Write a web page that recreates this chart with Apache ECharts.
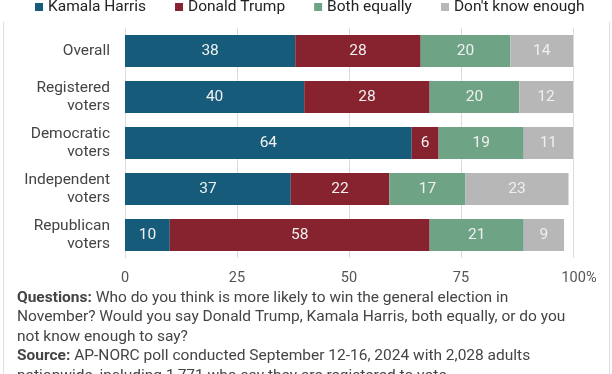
<!DOCTYPE html>
<html><head><meta charset="utf-8">
<style>html,body{margin:0;padding:0;background:#fff;}#c{width:612px;height:374px;}</style>
<script src="https://cdn.jsdelivr.net/npm/echarts@6/dist/echarts.min.js"></script>
</head><body><div id="c"></div>
<script>
const categories = ["Overall", "Registered\nvoters", "Democratic\nvoters", "Independent\nvoters", "Republican\nvoters"];
const harris = [38, 40, 64, 37, 10];
const trump = [28, 28, 6, 22, 58];
const both = [20, 20, 19, 17, 21];
const dontKnow = [14, 12, 11, 23, 9];
const seriesNames = ["Kamala Harris", "Donald Trump", "Both equally", "Don't know enough"];
const xTicks = [0, 25, 50, 75, 100];
const colors = ["#175b7b", "#87232f", "#6ea386", "#b7b7b7"];

const chart = echarts.init(document.getElementById('c'), null, {renderer: 'canvas'});
const mk = (name, data, color) => ({
  name, type: 'bar', stack: 'a', data, barWidth: 32,
  itemStyle: {color},
  label: {show: true, position: 'inside', color: '#f0f0f0', fontSize: 15.5, fontFamily: 'Roboto'}
});
chart.setOption({
  animation: false,
  textStyle: {fontFamily: 'Roboto'},
  legend: {
    top: -1, left: 35, padding: 0, itemWidth: 8, itemHeight: 8, itemGap: 29, icon: 'rect',
    textStyle: {fontSize: 15.5, color: '#222', fontFamily: 'Roboto', lineHeight: 16},
    data: seriesNames
  },
  grid: {left: 125, right: 39, top: 28, bottom: 116, containLabel: false},
  xAxis: {
    type: 'value', min: 0, max: 100, interval: 25,
    axisLine: {show: false}, axisTick: {show: false},
    splitLine: {lineStyle: {color: '#dcdcdc', width: 1}},
    axisLabel: {fontSize: 14.5, color: '#555', margin: 13,
      formatter: v => xTicks.includes(v) ? (v === 100 ? '{p|100%}' : String(v)) : '',
      rich: {p: {fontSize: 14.5, color: '#555', fontFamily: 'Roboto', padding: [0, 0, 0, 12]}}}
  },
  yAxis: {
    type: 'category', data: categories, inverse: true,
    axisLine: {show: true, lineStyle: {color: '#dcdcdc'}}, axisTick: {show: false},
    axisLabel: {fontSize: 15.5, color: '#444', lineHeight: 18, margin: 15, align: 'right'}
  },
  series: [
    mk(seriesNames[0], harris, colors[0]),
    mk(seriesNames[1], trump, colors[1]),
    mk(seriesNames[2], both, colors[2]),
    mk(seriesNames[3], dontKnow, colors[3])
  ],
  graphic: [
    {type: 'line', shape: {x1: 3.5, y1: 22, x2: 3.5, y2: 374}, style: {stroke: '#dedede', lineWidth: 1}},
    {type: 'line', shape: {x1: 609.5, y1: 22, x2: 609.5, y2: 374}, style: {stroke: '#dedede', lineWidth: 1}},
    {type: 'text', left: 17, top: 288, style: {
      text: '{b|Questions:} Who do you think is more likely to win the general election in\nNovember? Would you say Donald Trump, Kamala Harris, both equally, or do you\nnot know enough to say?\n{b|Source:} AP-NORC poll conducted September 12-16, 2024 with 2,028 adults\nnationwide, including 1,771 who say they are registered to vote.',
      font: '15.5px Roboto', fill: '#444', lineHeight: 19.5,
      rich: {b: {fontWeight: 'bold', fontSize: 15.5, fontFamily: 'Roboto', fill: '#444', lineHeight: 19.5}}
    }}
  ]
});
</script></body></html>
